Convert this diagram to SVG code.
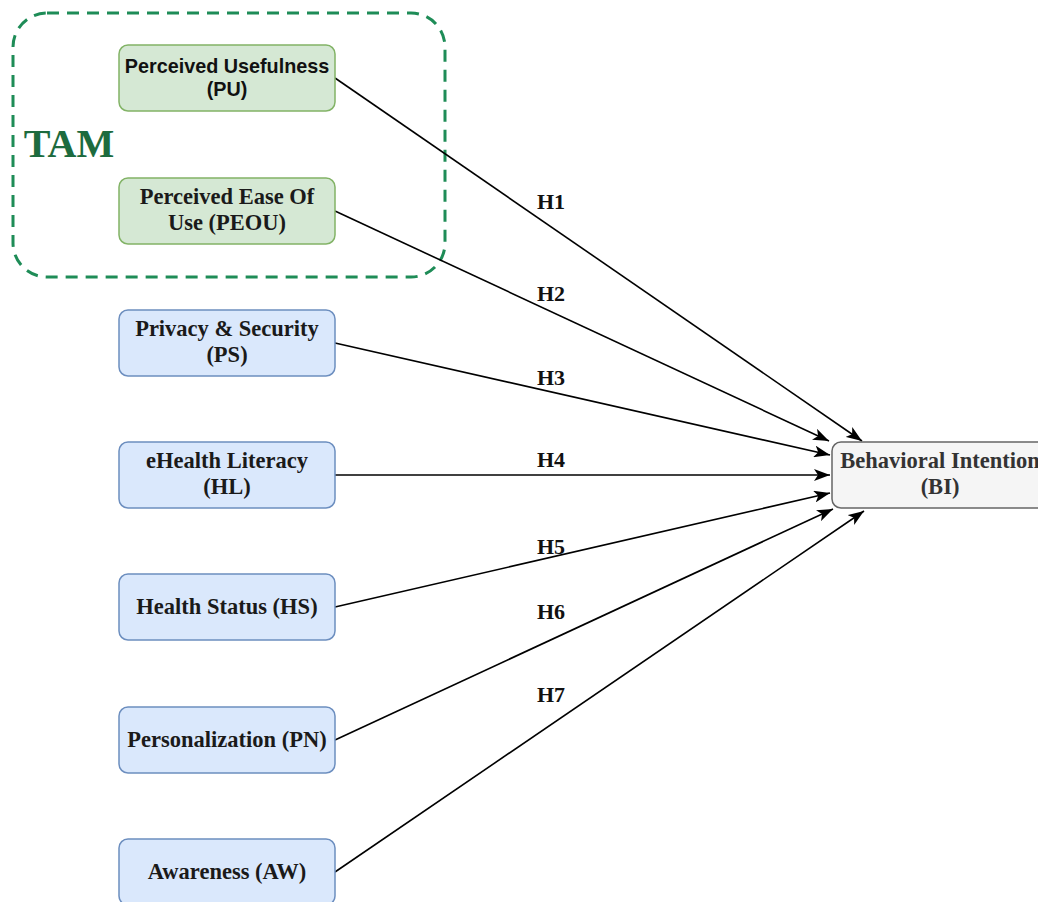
<svg xmlns="http://www.w3.org/2000/svg" width="1038" height="902" viewBox="0 0 1038 902">
  <style>
    .node-green { fill: #d5e8d4; stroke: #82b366; stroke-width: 1.5; }
    .node-blue { fill: #dae8fc; stroke: #6c8ebf; stroke-width: 1.5; }
    .node-grey { fill: #f5f5f5; stroke: #666666; stroke-width: 1.5; }
    .lbl { font-family: "Liberation Serif", "Times New Roman", serif; font-weight: bold; font-size: 22.5px; fill: #1a1a1a; text-anchor: middle; }
    .lbl-sans { font-family: "Liberation Sans", Arial, sans-serif; font-weight: bold; font-size: 19.8px; fill: #111111; text-anchor: middle; }
    .edge { fill: none; stroke: #000000; stroke-width: 1.6; marker-end: url(#arrow); }
    .hlbl { font-family: "Liberation Serif", "Times New Roman", serif; font-weight: bold; font-size: 22px; fill: #111111; text-anchor: middle; }
  </style>
  <defs>
    <marker id="arrow" markerUnits="userSpaceOnUse" viewBox="0 0 16 12" refX="16" refY="6" markerWidth="16" markerHeight="12" orient="auto">
      <path d="M0,0 L16,6 L0,12 L4,6 Z" fill="#000000"/>
    </marker>
  </defs>

  <rect width="1038" height="902" fill="#ffffff"/>

  <!-- TAM grouping frame -->
  <g id="tam-group">
    <rect x="13" y="13" width="432" height="264" rx="34" ry="34" fill="none" stroke="#1e8c57" stroke-width="3" stroke-dasharray="12 8"/>
    <text x="69" y="157" font-family="Liberation Serif, 'Times New Roman', serif" font-weight="bold" font-size="40" fill="#1d6b3e" text-anchor="middle">TAM</text>
  </g>

  <!-- connectors -->
  <g id="connectors">
    <path class="edge" d="M335,78 L862,441"/>
    <path class="edge" d="M335,211 L829,441"/>
    <path class="edge" d="M335,343 L830,455"/>
    <path class="edge" d="M335,475 L830,475"/>
    <path class="edge" d="M335,607 L830,493"/>
    <path class="edge" d="M335,740 L833,509"/>
    <path class="edge" d="M335,872 L864,511"/>
    <text class="hlbl" x="551" y="209">H1</text>
    <text class="hlbl" x="551" y="301">H2</text>
    <text class="hlbl" x="551" y="385">H3</text>
    <text class="hlbl" x="551" y="467">H4</text>
    <text class="hlbl" x="551" y="554">H5</text>
    <text class="hlbl" x="551" y="619">H6</text>
    <text class="hlbl" x="551" y="702">H7</text>
  </g>

  <g id="node-pu">
    <rect class="node-green" x="119" y="45" width="216" height="66" rx="9"/>
    <text class="lbl-sans" x="227" y="73">Perceived Usefulness</text>
    <text class="lbl-sans" x="227" y="96">(PU)</text>
  </g>
  <g id="node-peou">
    <rect class="node-green" x="119" y="178" width="216" height="66" rx="9"/>
    <text class="lbl" x="227" y="204">Perceived Ease Of</text>
    <text class="lbl" x="227" y="230">Use (PEOU)</text>
  </g>
  <g id="node-ps">
    <rect class="node-blue" x="119" y="310" width="216" height="66" rx="9"/>
    <text class="lbl" x="227" y="336">Privacy &amp; Security</text>
    <text class="lbl" x="227" y="362">(PS)</text>
  </g>
  <g id="node-hl">
    <rect class="node-blue" x="119" y="442" width="216" height="66" rx="9"/>
    <text class="lbl" x="227" y="468">eHealth Literacy</text>
    <text class="lbl" x="227" y="494">(HL)</text>
  </g>
  <g id="node-hs">
    <rect class="node-blue" x="119" y="574" width="216" height="66" rx="9"/>
    <text class="lbl" x="227" y="614">Health Status (HS)</text>
  </g>
  <g id="node-pn">
    <rect class="node-blue" x="119" y="707" width="216" height="66" rx="9"/>
    <text class="lbl" x="227" y="747">Personalization (PN)</text>
  </g>
  <g id="node-aw">
    <rect class="node-blue" x="119" y="839" width="216" height="66" rx="9"/>
    <text class="lbl" x="227" y="879">Awareness (AW)</text>
  </g>
  <g id="node-bi">
    <rect class="node-grey" x="832" y="442" width="216" height="66" rx="9"/>
    <text class="lbl" x="940" y="468" style="fill:#333333">Behavioral Intention</text>
    <text class="lbl" x="940" y="494" style="fill:#333333">(BI)</text>
  </g>
</svg>
